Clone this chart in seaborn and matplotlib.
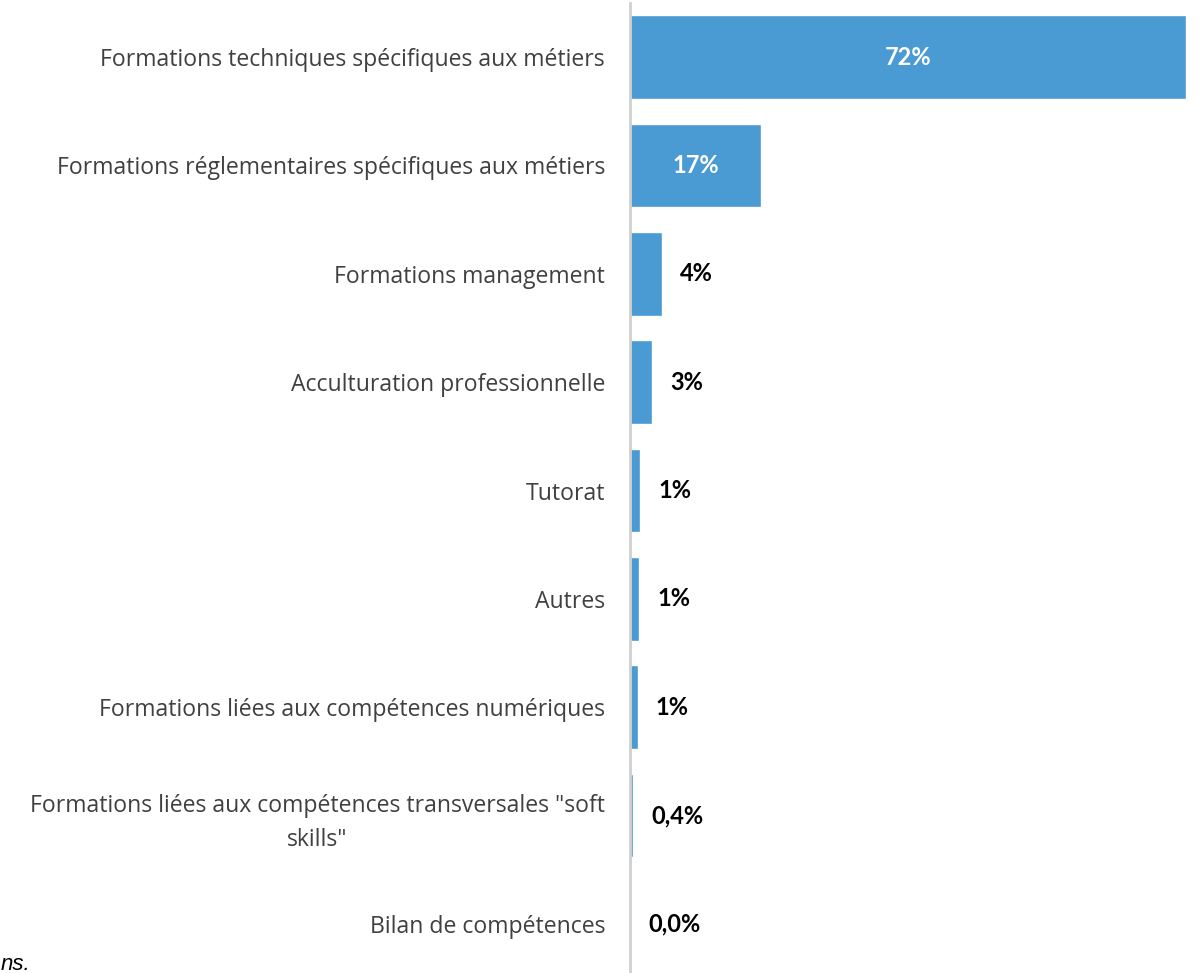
import matplotlib
matplotlib.use("Agg")
import matplotlib.pyplot as plt
import seaborn as sns
import pandas as pd

# categories and shares (%)
categories = [
    "Formations techniques spécifiques aux métiers",
    "Formations réglementaires spécifiques aux métiers",
    "Formations management",
    "Acculturation professionnelle",
    "Tutorat",
    "Autres",
    "Formations liées aux compétences numériques",
    "Formations liées aux compétences transversales \"soft\nskills\"",
    "Bilan de compétences",
]
values = [72, 17, 4.1, 2.9, 1.3, 1.2, 1.0, 0.4, 0.0]
value_labels = ["72%", "17%", "4%", "3%", "1%", "1%", "1%", "0,4%", "0,0%"]

df = pd.DataFrame({"categorie": categories, "part": values})

sns.set_style("white")
plt.rcParams['font.family'] = ['Open Sans', 'DejaVu Sans']

W, H = 1201, 973
fig = plt.figure(figsize=(W / 100, H / 100), dpi=100)
ax = fig.add_axes([630 / W, -5 / H, 1 - 630 / W, (973 - 3 + 5) / H])

sns.barplot(data=df, x="part", y="categorie", orient="h", color="#4A9AD3",
            saturation=1, width=0.77, ax=ax)

ax.set_xlim(0, 72 * (W - 630) / 556)
ax.set_xlabel(""); ax.set_ylabel("")
ax.set_xticks([])
for s in ["top", "right", "bottom"]:
    ax.spines[s].set_visible(False)
ax.spines["left"].set_color("#D0D0D0")
ax.spines["left"].set_linewidth(2)

ax.tick_params(axis="y", length=0, pad=18)
for t in ax.get_yticklabels():
    t.set_fontsize(16.6)
    t.set_color("#404040")
    t.set_multialignment("center")
    t.set_linespacing(1.5)

# value labels: white inside big bars, black outside small ones
for i, (v, lab) in enumerate(zip(values, value_labels)):
    if v > 10:
        ax.text(v / 2, i, lab, ha="center", va="center", color="white",
                fontsize=17, fontweight="bold", family=["Lato", "DejaVu Sans"])
    else:
        ax.annotate(lab, (v, i), xytext=(13, 0), textcoords="offset points",
                    ha="left", va="center", color="black",
                    fontsize=17, fontweight="bold", family=["Lato", "DejaVu Sans"])

# end of the source note, cut at the bottom-left edge in the original
fig.text(1 / W, (973 - 970) / H, "ns.", ha="left", va="baseline",
         fontsize=16, style="italic",
         family=["Liberation Sans", "DejaVu Sans"], color="black")

fig.savefig("out.png", dpi=100)
